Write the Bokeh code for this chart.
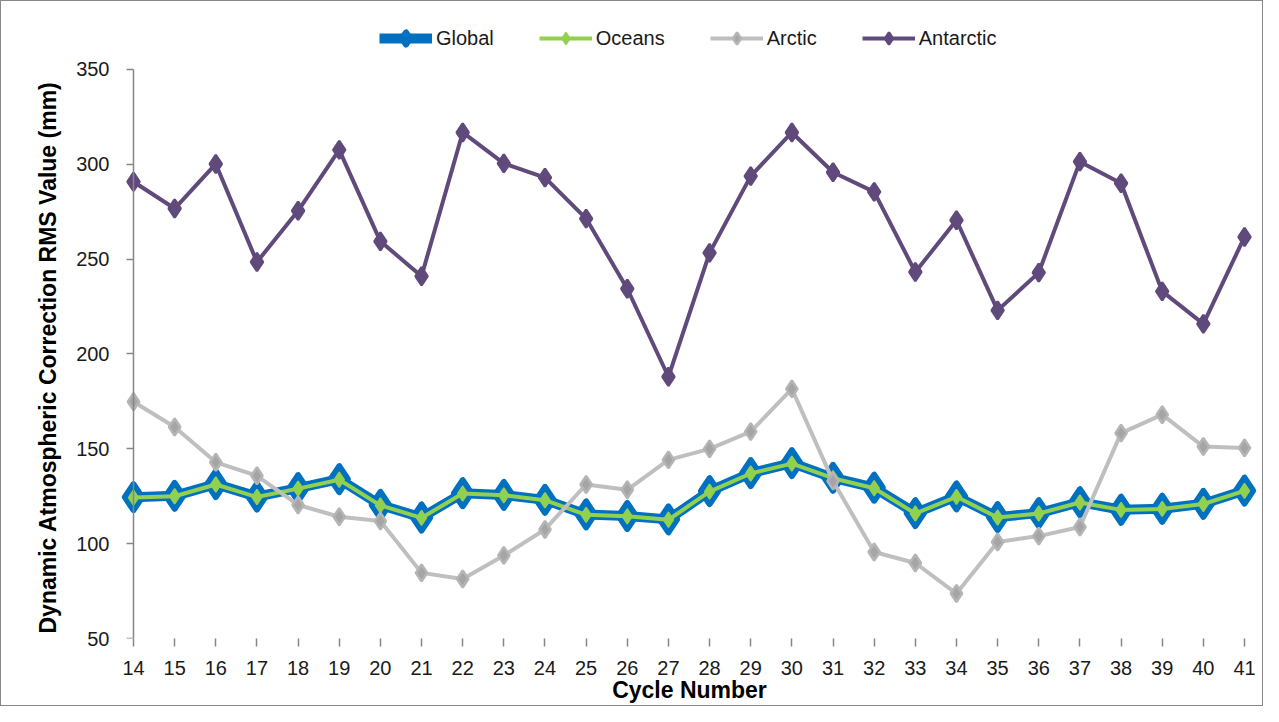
import numpy as np
from bokeh.plotting import figure
from bokeh.models import Range1d, FixedTicker, Legend, LegendItem, LinearAxis, Title
from bokeh.embed import file_html
from bokeh.resources import INLINE

cycles = [14, 15, 16, 17, 18, 19, 20, 21, 22, 23, 24, 25, 26, 27,
          28, 29, 30, 31, 32, 33, 34, 35, 36, 37, 38, 39, 40, 41]
global_rms = [124.5, 125.2, 131.4, 124.8, 129.3, 134.0, 120.4, 113.8, 126.6, 125.7,
              123.1, 115.4, 114.6, 112.8, 127.7, 137.2, 142.5, 134.7, 129.5, 116.1,
              124.9, 114.0, 116.1, 121.9, 117.9, 118.4, 121.0, 128.0]
oceans_rms = [124.3, 125.0, 131.2, 124.6, 129.0, 133.7, 120.2, 113.6, 126.4, 125.5,
              122.9, 115.2, 114.4, 112.6, 127.4, 137.0, 142.2, 134.5, 129.2, 115.9,
              124.7, 113.8, 115.9, 121.7, 117.8, 118.3, 120.9, 127.8]
arctic_rms = [174.8, 161.5, 142.9, 135.8, 120.4, 114.2, 111.9, 84.6, 81.4, 93.8,
              107.5, 131.2, 128.4, 144.2, 150.0, 159.1, 181.6, 133.0, 95.6, 89.8,
              73.7, 100.9, 104.0, 108.8, 158.3, 168.0, 151.2, 150.5]
antarctic_rms = [290.8, 276.7, 300.2, 248.5, 275.5, 307.6, 259.4, 241.0, 316.8, 300.5,
                 293.0, 271.4, 234.4, 188.0, 253.3, 293.8, 316.8, 295.8, 285.5, 243.2,
                 270.5, 223.0, 242.9, 301.4, 290.0, 233.0, 215.9, 261.7]
y_ticks = [50, 100, 150, 200, 250, 300, 350]

FONT = "Liberation Sans"
AXIS_GRAY = "#868686"

p = figure(width=1263, height=706, output_backend="svg", toolbar_location=None,
           x_range=Range1d(13.5626, 41.4617), y_range=Range1d(50, 385.32),
           min_border_left=114, min_border_right=1, min_border_top=1,
           min_border_bottom=69)
p.styles = {"border": "1px solid #888888", "box-sizing": "border-box"}
p.outline_line_color = None
p.xgrid.visible = False
p.ygrid.visible = False

# left-panel y axis: tick labels only
yax = p.yaxis[0]
yax.ticker = FixedTicker(ticks=y_ticks)
yax.bounds = (50, 350)
yax.axis_line_color = None
yax.major_tick_line_color = None
yax.major_tick_out = 0
yax.major_tick_in = 0
yax.minor_tick_line_color = None
yax.major_label_standoff = 6
yax.major_label_text_font = FONT
yax.major_label_text_font_size = "20px"
yax.major_label_text_color = "#1a1a1a"

# y axis line and ticks, crossing at cycle 14
yline = LinearAxis(ticker=FixedTicker(ticks=y_ticks), bounds=(50, 350), fixed_location=14,
                   axis_line_color=AXIS_GRAY, axis_line_width=1.5,
                   major_tick_line_color=AXIS_GRAY, major_tick_line_width=1.5,
                   major_tick_out=7, major_tick_in=0, minor_tick_line_color=None,
                   major_label_text_font_size="0px", major_label_text_alpha=0)
p.add_layout(yline, "left")

# y axis title, centred on the 50-350 span
ytitle = Title(text="Dynamic Atmospheric Correction RMS Value (mm)", align="left",
               offset=5, text_font=FONT, text_font_size="23px", text_font_style="bold",
               text_color="#000000", standoff=25)
p.add_layout(ytitle, "left")

# x axis
xax = p.xaxis[0]
xax.ticker = FixedTicker(ticks=cycles)
xax.axis_line_color = None
xax.major_tick_line_color = AXIS_GRAY
xax.major_tick_line_width = 1.5
xax.major_tick_out = 8
xax.major_tick_in = 0
xax.minor_tick_line_color = None
xax.major_label_standoff = 14
xax.major_label_text_font = FONT
xax.major_label_text_font_size = "20px"
xax.major_label_text_color = "#1a1a1a"
xax.axis_label = "Cycle Number"
xax.axis_label_text_font = FONT
xax.axis_label_text_font_size = "23px"
xax.axis_label_text_font_style = "bold"
xax.axis_label_text_color = "#000000"
xax.axis_label_standoff = -1

g_line = p.line(cycles, global_rms, line_color="#0070C0", line_width=10, line_join="round")
g_mark = p.scatter(cycles, global_rms, marker="diamond", size=26,
                   fill_color="#0070C0", line_color="#0070C0", line_width=6, line_join="round")

o_line = p.line(cycles, oceans_rms, line_color="#92D050", line_width=4, line_join="round")
o_mark = p.scatter(cycles, oceans_rms, marker="diamond", size=15,
                   fill_color="#92D050", line_color="#92D050", line_width=1.5)

a_line = p.line(cycles, arctic_rms, line_color="#BFBFBF", line_width=4, line_join="round")
a_mark = p.scatter(cycles, arctic_rms, marker="diamond", size=17,
                   fill_color="#A5A5A5", line_color="#B5B5B5", line_width=2.5)

n_line = p.line(cycles, antarctic_rms, line_color="#604A7B", line_width=4, line_join="round")
n_mark = p.scatter(cycles, antarctic_rms, marker="diamond", size=18,
                   fill_color="#604A7B", line_color="#604A7B", line_width=2.5)

legend = Legend(items=[
    LegendItem(label="Global", renderers=[g_line, g_mark]),
    LegendItem(label="Oceans", renderers=[o_line, o_mark]),
    LegendItem(label="Arctic", renderers=[a_line, a_mark]),
    LegendItem(label="Antarctic", renderers=[n_line, n_mark]),
], orientation="horizontal", location=(264, 585), spacing=45, glyph_width=53,
   glyph_height=30, label_standoff=4, padding=0, margin=0,
   border_line_color=None, background_fill_alpha=0,
   label_text_font=FONT, label_text_font_size="20px", label_text_color="#1a1a1a")
p.add_layout(legend)

open("out.html", "w").write(file_html(p, INLINE))
